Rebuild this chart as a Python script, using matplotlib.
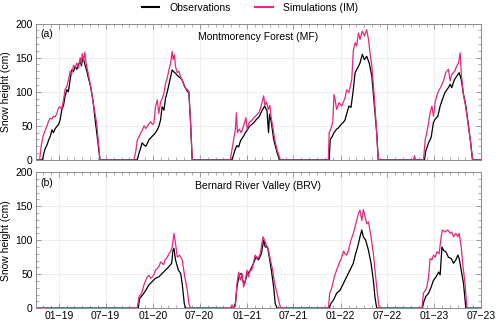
import pandas as pd
import matplotlib
matplotlib.use('Agg')
import matplotlib.pyplot as plt
import matplotlib.dates as mdates
from matplotlib.ticker import MultipleLocator, FuncFormatter
from matplotlib.lines import Line2D

plt.rcParams['font.family'] = ['Liberation Sans', 'DejaVu Sans']

# hauteur de neige (cm); jours comptés à partir du 1er octobre de chaque hiver
# --- Montmorency Forest (MF) ---
mf_obs_d_2018 = [27, 33, 38, 45, 51, 58, 64, 70, 77, 83, 90, 96, 102, 109, 115, 122, 128, 135, 141, 148,
                 154, 161, 167, 174, 179, 184, 189, 193, 200, 206, 213, 219, 226, 232, 240, 251]
mf_obs_v_2018 = [0, 10, 17, 22, 29, 35, 44, 40, 46, 49, 52, 59, 73, 80, 93, 103, 100, 118, 132, 130,
                 137, 133, 140, 144, 138, 151, 145, 139, 130, 120, 110, 98, 80, 59, 35, 0]
mf_sim_d_2018 = [16, 22, 29, 36, 44, 50, 57, 64, 70, 76, 83, 89, 96, 102, 109, 115, 122, 128, 135, 141,
                 148, 155, 161, 167, 174, 178, 182, 187, 192, 197, 206, 215, 225, 238, 251]
mf_sim_v_2018 = [0, 20, 34, 42, 49, 56, 61, 60, 64, 63, 68, 76, 78, 74, 88, 103, 108, 117, 130, 126,
                 139, 136, 142, 135, 150, 141, 156, 146, 158, 142, 125, 107, 83, 54, 0]

mf_obs_d_2019 = [31, 38, 44, 50, 57, 64, 70, 77, 83, 90, 96, 102, 109, 115, 122, 128, 135, 141, 148, 154,
                 161, 167, 174, 180, 187, 193, 200, 206, 213, 219, 226, 232, 238, 245]
mf_obs_v_2019 = [0, 10, 17, 25, 22, 20, 24, 30, 32, 35, 37, 40, 44, 49, 59, 78, 73, 90, 100, 110,
                 122, 132, 129, 127, 124, 122, 120, 117, 110, 105, 101, 98, 59, 0]
mf_sim_d_2019 = [18, 25, 31, 38, 45, 51, 58, 64, 70, 77, 83, 90, 96, 102, 109, 115, 122, 128, 135, 141,
                 148, 154, 161, 167, 171, 176, 180, 187, 193, 200, 206, 213, 219, 226, 232, 238, 245]
mf_sim_v_2019 = [0, 12, 29, 34, 40, 44, 50, 46, 49, 53, 56, 52, 54, 78, 88, 68, 85, 90, 98, 112,
                 120, 132, 142, 159, 147, 154, 137, 128, 130, 122, 117, 110, 105, 103, 100, 59, 0]

mf_obs_d_2020 = [34, 40, 47, 53, 60, 66, 70, 79, 86, 92, 98, 104, 111, 117, 124, 130, 137, 143, 150, 155,
                 161, 170, 176, 180, 187, 196, 209, 219]
mf_obs_v_2020 = [0, 8, 16, 21, 19, 27, 30, 35, 40, 43, 47, 50, 52, 54, 57, 60, 62, 66, 72, 75,
                 79, 72, 40, 67, 55, 30, 11, 0]
mf_sim_d_2020 = [27, 34, 40, 47, 51, 55, 62, 70, 79, 88, 93, 101, 111, 120, 130, 140, 148, 157, 162, 168,
                 175, 181, 187, 192, 200, 209, 222]
mf_sim_v_2020 = [0, 16, 30, 45, 69, 40, 45, 40, 50, 62, 45, 55, 58, 62, 66, 70, 80, 94, 80, 85,
                 74, 80, 60, 50, 30, 15, 0]

mf_obs_d_2021 = [47, 51, 57, 66, 76, 83, 89, 96, 102, 108, 115, 124, 132, 141, 148, 158, 167, 176, 184, 193,
                 203, 213, 223, 232, 238]
mf_obs_v_2021 = [0, 30, 33, 40, 45, 47, 50, 53, 55, 58, 67, 79, 77, 103, 128, 135, 142, 155, 147, 152,
                 142, 123, 79, 40, 0]
mf_sim_d_2021 = [44, 47, 53, 61, 66, 70, 76, 86, 96, 109, 115, 124, 135, 141, 148, 154, 161, 167, 176, 184,
                 193, 200, 206, 213, 219, 226, 232, 238]
mf_sim_v_2021 = [0, 40, 45, 55, 96, 89, 74, 84, 79, 91, 103, 99, 118, 160, 172, 167, 186, 177, 189, 182,
                 191, 177, 157, 138, 110, 74, 40, 0]

mf_obs_d_2022 = [53, 58, 69, 79, 88, 95, 105, 114, 123, 133, 146, 153, 159, 170, 179, 188, 196, 205, 214, 224,
                 233, 240]
mf_obs_v_2022 = [0, 13, 25, 33, 55, 60, 64, 79, 89, 99, 106, 111, 106, 118, 123, 128, 118, 96, 79, 50,
                 25, 0]
mf_sim_d_2022 = [10, 14, 19, 49, 56, 62, 69, 75, 82, 88, 95, 101, 108, 118, 127, 136, 146, 153, 159, 170,
                 179, 185, 192, 196, 205, 211, 222, 231, 240]
mf_sim_v_2022 = [0, 6, 0, 0, 30, 40, 55, 69, 79, 64, 86, 94, 101, 108, 116, 128, 133, 116, 125, 130,
                 138, 142, 157, 128, 94, 84, 55, 30, 0]

# --- Bernard River Valley (BRV) ---
brv_obs_d_2019 = [35, 40, 51, 64, 76, 89, 102, 115, 128, 141, 154, 165, 170, 174, 180, 191, 200, 206, 214, 219]
brv_obs_v_2019 = [0, 14, 19, 26, 34, 39, 44, 46, 51, 56, 61, 66, 85, 88, 71, 56, 51, 36, 7, 0]
brv_sim_d_2019 = [31, 38, 48, 57, 64, 70, 77, 83, 90, 96, 102, 109, 115, 122, 128, 134, 139, 148, 154, 161,
                  167, 174, 180, 187, 196, 206, 216, 226, 232, 238]
brv_sim_v_2019 = [0, 17, 22, 34, 41, 46, 48, 44, 46, 49, 56, 58, 61, 68, 66, 64, 71, 75, 80, 83,
                  90, 110, 95, 75, 78, 71, 46, 26, 7, 0]

brv_obs_d_2020 = [40, 47, 53, 62, 70, 75, 83, 92, 105, 118, 127, 137, 148, 157, 163, 172, 179, 187, 196, 202, 209]
brv_obs_v_2020 = [0, 7, 31, 49, 51, 41, 36, 49, 56, 66, 75, 71, 80, 100, 90, 90, 75, 56, 31, 7, 0]
brv_sim_d_2020 = [27, 34, 40, 47, 53, 60, 66, 73, 79, 86, 92, 98, 105, 111, 124, 135, 144, 154, 163, 170,
                  176, 183, 192, 200, 209, 218, 224]
brv_sim_v_2020 = [0, 5, 0, 3, 36, 53, 41, 51, 31, 41, 56, 46, 56, 56, 78, 73, 80, 105, 98, 90,
                  85, 71, 56, 36, 22, 7, 0]

brv_obs_d_2021 = [47, 54, 64, 76, 89, 102, 115, 128, 141, 150, 158, 167, 174, 180, 189, 200, 210, 219, 225, 232]
brv_obs_v_2021 = [0, 7, 12, 22, 26, 36, 46, 56, 66, 80, 90, 105, 115, 105, 100, 85, 66, 41, 17, 0]
brv_sim_d_2021 = [44, 49, 54, 60, 67, 76, 86, 96, 103, 109, 115, 122, 132, 141, 148, 154, 161, 167, 174, 180,
                  187, 193, 200, 210, 219, 228, 236, 242]
brv_sim_v_2021 = [0, 22, 26, 34, 46, 56, 66, 75, 84, 80, 78, 85, 100, 110, 120, 129, 139, 144, 129, 145,
                  134, 124, 127, 105, 80, 46, 17, 0]

brv_obs_d_2022 = [45, 50, 58, 69, 79, 88, 98, 108, 114, 121, 127, 136, 146, 157, 166, 175, 183, 188, 196, 205, 214]
brv_obs_v_2022 = [0, 9, 17, 22, 31, 41, 46, 53, 49, 90, 85, 83, 75, 73, 66, 71, 78, 73, 56, 36, 0]
brv_sim_d_2022 = [43, 49, 56, 62, 69, 75, 82, 88, 95, 101, 110, 118, 123, 133, 144, 153, 159, 166, 175, 183,
                  188, 196, 203, 211, 218]
brv_sim_v_2022 = [0, 22, 26, 31, 46, 73, 71, 78, 75, 83, 80, 105, 115, 112, 115, 110, 112, 105, 110, 105,
                  110, 90, 61, 36, 0]

debut = pd.Timestamp('2018-10-01')
fin = pd.Timestamp('2023-07-01')
cor_obs = 'black'
cor_sim = '#e6287e'
cinza = '#8c8c8c'


# monta a série completa (zeros entre os invernos)
def serie(hivers):
    datas = [debut]
    valores = [0]
    for ano, dias, vals in hivers:
        inicio = pd.Timestamp(f'{ano}-10-01')
        datas += [inicio + pd.Timedelta(days=d) for d in dias]
        valores += vals
    datas.append(fin)
    valores.append(0)
    return datas, valores


mf_obs = serie([(2018, mf_obs_d_2018, mf_obs_v_2018), (2019, mf_obs_d_2019, mf_obs_v_2019),
                (2020, mf_obs_d_2020, mf_obs_v_2020), (2021, mf_obs_d_2021, mf_obs_v_2021),
                (2022, mf_obs_d_2022, mf_obs_v_2022)])
mf_sim = serie([(2018, mf_sim_d_2018, mf_sim_v_2018), (2019, mf_sim_d_2019, mf_sim_v_2019),
                (2020, mf_sim_d_2020, mf_sim_v_2020), (2021, mf_sim_d_2021, mf_sim_v_2021),
                (2022, mf_sim_d_2022, mf_sim_v_2022)])
brv_obs = serie([(2019, brv_obs_d_2019, brv_obs_v_2019), (2020, brv_obs_d_2020, brv_obs_v_2020),
                 (2021, brv_obs_d_2021, brv_obs_v_2021), (2022, brv_obs_d_2022, brv_obs_v_2022)])
brv_sim = serie([(2019, brv_sim_d_2019, brv_sim_v_2019), (2020, brv_sim_d_2020, brv_sim_v_2020),
                 (2021, brv_sim_d_2021, brv_sim_v_2021), (2022, brv_sim_d_2022, brv_sim_v_2022)])

fig = plt.figure(figsize=(5, 3.23), dpi=100)
ax1 = fig.add_axes([0.071, 0.505, 0.891, 0.422])
ax2 = fig.add_axes([0.071, 0.046, 0.891, 0.421])

paineis = [(ax1, mf_obs, mf_sim, '(a)', 'Montmorency Forest (MF)'),
           (ax2, brv_obs, brv_sim, '(b)', 'Bernard River Valley (BRV)')]

for ax, obs, sim, letra, titulo in paineis:
    ax.plot(obs[0], obs[1], color=cor_obs, lw=0.9)
    ax.plot(sim[0], sim[1], color=cor_sim, lw=0.9)
    ax.set_xlim(debut, fin)
    ax.set_ylim(0, 200)
    ax.xaxis.set_major_locator(mdates.MonthLocator(bymonth=[1, 7]))
    ax.xaxis.set_minor_locator(mdates.MonthLocator())
    ax.xaxis.set_major_formatter(FuncFormatter(
        lambda x, pos: mdates.num2date(x).strftime('%m') + '\u2212' + mdates.num2date(x).strftime('%y')))
    ax.yaxis.set_major_locator(MultipleLocator(50))
    ax.yaxis.set_minor_locator(MultipleLocator(10))
    ax.tick_params(which='both', direction='in', top=True, right=True, color=cinza, labelsize=7.5, pad=2)
    ax.tick_params(which='major', length=3.5, width=0.6)
    ax.tick_params(which='minor', length=2, width=0.5)
    ax.grid(True, which='major', color='#ebebeb', lw=0.6)
    ax.set_axisbelow(True)
    for s in ax.spines.values():
        s.set_color(cinza)
        s.set_linewidth(0.7)
    ax.set_ylabel('Snow height (cm)', fontsize=7.5, labelpad=3)
    ax.text(0.012, 0.92, letra, transform=ax.transAxes, fontsize=7.5, va='center')
    ax.text(0.5, 0.9, titulo, transform=ax.transAxes, fontsize=7.5, ha='center', va='center')

ax1.tick_params(labelbottom=False)

handles = [Line2D([], [], color=cor_obs, lw=1.5), Line2D([], [], color=cor_sim, lw=1.5)]
fig.legend(handles, ['Observations', 'Simulations (IM)'], loc='center', bbox_to_anchor=(0.5, 0.975),
           ncol=2, frameon=False, fontsize=7.5, handlelength=1.7, handletextpad=1.0, columnspacing=2.3)

fig.savefig('out.png', dpi=100)
